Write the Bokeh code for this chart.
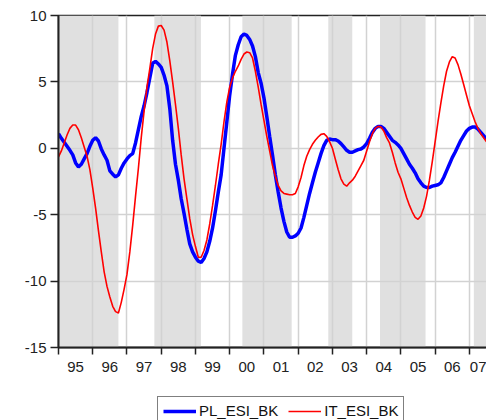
from bokeh.plotting import figure
from bokeh.layouts import column
from bokeh.models import FixedTicker, Legend, LegendItem, Range1d, ColumnDataSource
from bokeh.embed import file_html
from bokeh.resources import INLINE

# Monthly sentiment indicators, Jan 1995 onwards
start_year = 1995
pl_esi_bk = [
    1.1, 0.75, 0.45, 0.15, -0.15, -0.5, -1.1, -1.4, -1.2, -0.8, -0.4, 0.15,
    0.6, 0.8, 0.55, -0.05, -0.5, -0.9, -1.7, -1.95, -2.15, -2.0, -1.5, -1.1,
    -0.8, -0.55, -0.4, 0.4, 1.4, 2.4, 3.2, 4.2, 5.3, 6.4, 6.55, 6.35,
    6.1, 5.5, 4.7, 3.0, 0.6, -1.2, -2.4, -3.8, -4.9, -6.1, -7.2, -7.8,
    -8.2, -8.5, -8.6, -8.3, -7.8, -7.0, -6.0, -4.7, -3.3, -2.0, 0.0, 2.0,
    4.0, 5.6, 7.0, 7.8, 8.4, 8.6, 8.5, 8.2, 7.7, 6.9, 5.7, 4.9,
    3.8, 2.4, 0.9, -0.5, -2.0, -3.3, -4.5, -5.5, -6.3, -6.7, -6.7, -6.6,
    -6.4, -6.0, -5.2, -4.3, -3.4, -2.6, -1.8, -1.1, -0.4, 0.2, 0.6, 0.7,
    0.65, 0.65, 0.55, 0.35, 0.1, -0.15, -0.3, -0.3, -0.2, -0.1, -0.05, 0.1,
    0.35, 0.75, 1.2, 1.5, 1.65, 1.65, 1.5, 1.2, 0.9, 0.6, 0.45, 0.25,
    0.0, -0.4, -0.8, -1.2, -1.5, -1.85, -2.3, -2.6, -2.85, -2.95, -2.95, -2.85,
    -2.8, -2.75, -2.6, -2.2, -1.7, -1.2, -0.7, -0.3, 0.15, 0.6, 0.95, 1.3,
    1.5, 1.6, 1.6, 1.45, 1.2, 0.95, 0.7,
]
it_esi_bk = [
    -0.65, -0.2, 0.4, 1.0, 1.5, 1.75, 1.75, 1.4, 0.8, 0.1, -0.6, -1.6,
    -3.0, -4.5, -6.2, -7.8, -9.3, -10.4, -11.2, -11.9, -12.3, -12.4, -11.6, -10.6,
    -9.5, -7.8, -5.8, -3.6, -1.5, 0.8, 2.8, 4.6, 6.0, 7.5, 8.6, 9.2,
    9.25, 8.9, 8.0, 6.6, 5.0, 3.3, 1.5, -0.5, -2.3, -3.8, -5.3, -6.5,
    -7.4, -8.2, -8.2, -7.7, -6.9, -5.7, -4.3, -2.8, -1.2, 0.3, 2.0, 3.5,
    4.6, 5.3, 5.8, 6.2, 6.7, 7.1, 7.25, 7.2, 6.8, 5.8, 4.6, 3.3,
    2.1, 0.9, -0.2, -1.3, -2.1, -2.8, -3.2, -3.4, -3.45, -3.5, -3.5, -3.4,
    -2.9, -2.2, -1.3, -0.6, -0.1, 0.3, 0.6, 0.85, 1.05, 1.1, 0.9, 0.5,
    0.0, -0.8, -1.6, -2.3, -2.7, -2.85, -2.6, -2.4, -2.1, -1.7, -1.3, -0.9,
    -0.2, 0.5, 1.1, 1.5, 1.65, 1.6, 1.3, 0.8, 0.4, -0.3, -1.1, -1.8,
    -2.3, -3.0, -3.7, -4.3, -4.8, -5.2, -5.35, -5.1, -4.5, -3.6, -2.4, -1.0,
    0.5, 2.0, 3.4, 4.7, 5.8, 6.5, 6.9, 6.8, 6.3, 5.6, 4.8, 4.0,
    3.2, 2.6, 2.0, 1.5, 1.1, 0.8, 0.5,
]

# Shaded periods (decimal years)
band_starts = [1995.0, 1997.80, 2000.37, 2002.88, 2004.39, 2007.13]
band_ends = [1996.75, 1999.16, 2001.81, 2003.58, 2005.72, 2007.5]

year_labels = ["95", "96", "97", "98", "99", "00", "01", "02", "03", "04", "05", "06", "07"]
y_ticks = [-15, -10, -5, 0, 5, 10]
y_labels = ["-15", "-10", "-5", "0", "5", "10"]

t = [start_year + i / 12 for i in range(len(pl_esi_bk))]
year_edges = [start_year + k for k in range(len(year_labels) + 1)]
year_mids = [start_year + k + 0.5 for k in range(len(year_labels))]

FONT = "Liberation Sans"
BLUE = "#0000ff"
RED = "#ff0000"

p = figure(width=486, height=385, output_backend="svg", toolbar_location=None,
           x_range=Range1d(1995.0, 2007.5), y_range=Range1d(-15, 10),
           min_border_left=58, min_border_right=0, min_border_top=15,
           min_border_bottom=38)
p.background_fill_color = "white"
p.border_fill_color = "white"
p.outline_line_color = "#222222"
p.outline_line_width = 1.5

bands = ColumnDataSource(dict(left=band_starts, right=band_ends))
p.quad(left="left", right="right", bottom=-15, top=10, source=bands,
       fill_color="#e0e0e0", line_color=None, level="image")

# grid
p.xgrid.ticker = FixedTicker(ticks=year_edges)
p.ygrid.ticker = FixedTicker(ticks=y_ticks)
for g in (p.xgrid, p.ygrid):
    g.grid_line_color = "#d2d2d2"
    g.grid_line_width = 1.5

p.line(t, pl_esi_bk, line_color=BLUE, line_width=3.5)
p.line(t, it_esi_bk, line_color=RED, line_width=1.6)

# x axis: labels mid-year, tick marks at year boundaries
xa = p.xaxis[0]
xa.ticker = FixedTicker(ticks=year_mids, minor_ticks=year_edges)
xa.major_label_overrides = {m: lab for m, lab in zip(year_mids, year_labels)}
xa.major_tick_out = 0
xa.major_tick_in = 0
xa.minor_tick_out = 7
xa.minor_tick_in = 0
xa.minor_tick_line_color = "#222222"
xa.minor_tick_line_width = 1.5
xa.axis_line_width = 2
xa.axis_line_color = "#222222"
xa.major_label_standoff = 7

ya = p.yaxis[0]
ya.ticker = FixedTicker(ticks=y_ticks)
ya.major_label_overrides = {v: lab for v, lab in zip(y_ticks, y_labels)}
ya.major_tick_out = 8
ya.major_tick_in = 0
ya.minor_tick_out = 0
ya.minor_tick_in = 0
ya.major_tick_line_color = "#222222"
ya.major_tick_line_width = 1.5
ya.axis_line_width = 2
ya.axis_line_color = "#222222"
ya.major_label_standoff = 4

for ax in (xa, ya):
    ax.major_label_text_font = FONT
    ax.major_label_text_font_size = "15px"
    ax.major_label_text_color = "#222222"

# separate strip holding the legend under the chart
# (its frame is aligned with the chart frame by the column layout)
leg = figure(width=486, height=35, output_backend="svg", toolbar_location=None,
             x_axis_type=None, y_axis_type=None,
             x_range=Range1d(0, 1), y_range=Range1d(0, 1),
             min_border=0, min_border_left=0, min_border_right=0,
             min_border_top=0, min_border_bottom=0)
leg.outline_line_color = None
leg.xgrid.visible = False
leg.ygrid.visible = False
nan = float("nan")
pl_key = leg.line([nan], [nan], line_color=BLUE, line_width=3.5)
it_key = leg.line([nan], [nan], line_color=RED, line_width=1.6)

legend = Legend(items=[LegendItem(label="PL_ESI_BK", renderers=[pl_key]),
                       LegendItem(label="IT_ESI_BK", renderers=[it_key])],
                orientation="horizontal", location=(99, -5))
legend.label_text_font = FONT
legend.label_text_font_size = "15px"
legend.label_text_color = "#111111"
legend.border_line_color = "black"
legend.border_line_width = 1
legend.padding = 5
legend.margin = 0
legend.spacing = 10
legend.glyph_width = 33
legend.glyph_height = 16
legend.label_height = 16
legend.label_standoff = 3
legend.background_fill_alpha = 1
leg.add_layout(legend)

layout = column(p, leg, spacing=0)
open("out.html", "w").write(file_html(layout, INLINE))
